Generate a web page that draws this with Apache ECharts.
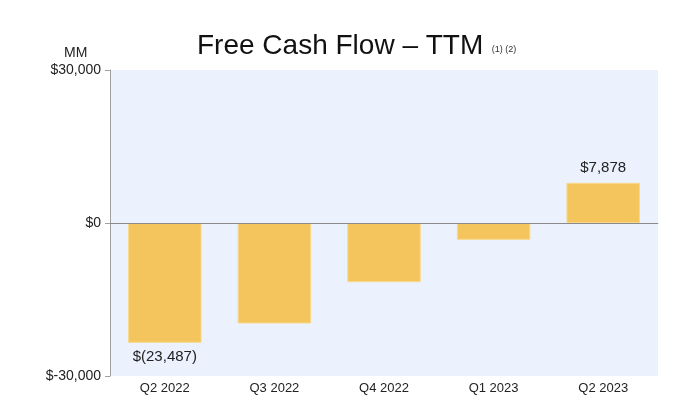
<!DOCTYPE html>
<html><head><meta charset="utf-8">
<script src="https://cdn.jsdelivr.net/npm/echarts@6/dist/echarts.min.js"></script>
<style>html,body{margin:0;padding:0;background:#fff}#c{width:700px;height:401px}</style>
</head><body><div id="c"></div>
<script>
const categories = ['Q2 2022', 'Q3 2022', 'Q4 2022', 'Q1 2023', 'Q2 2023'];
const values = [-23487, -19700, -11600, -3300, 7878];
const valueLabels = ['$(23,487)', '', '', '', '$7,878'];
const yTicks = { min: -30000, max: 30000, interval: 30000 };

const chart = echarts.init(document.getElementById('c'));
const font = '"Liberation Sans", Arial, sans-serif';
chart.setOption({
  animation: false,
  textStyle: { fontFamily: font },
  title: [{
    text: '{t|Free Cash Flow – TTM}{s| (1) (2)}',
    left: 192, top: 27,
    textStyle: { rich: {
      t: { fontSize: 28, fontWeight: 'normal', color: '#111', fontFamily: font },
      s: { fontSize: 9, fontWeight: 'normal', color: '#333', fontFamily: font, verticalAlign: 'bottom', padding: [0,0,6,6] }
    } }
  }, {
    text: 'MM', left: 59, top: 41,
    textStyle: { fontSize: 14, fontWeight: 'normal', color: '#222', fontFamily: font }
  }],
  grid: { left: 110, right: 42, top: 70, bottom: 25, show: true, backgroundColor: '#EBF1FD', borderWidth: 0 },
  xAxis: {
    type: 'category', data: categories,
    axisLine: { lineStyle: { color: '#C0C0C0' } },
    axisTick: { alignWithLabel: true, length: 4, lineStyle: { color: '#C0C0C0' } },
    axisLabel: { color: '#222', fontSize: 13, margin: 6 }
  },
  yAxis: {
    type: 'value', min: yTicks.min, max: yTicks.max, interval: yTicks.interval,
    splitLine: { show: false },
    axisLine: { show: true, lineStyle: { color: '#A0A0A0' } },
    axisTick: { show: true, length: 5, lineStyle: { color: '#A0A0A0' } },
    axisLabel: { color: '#222', fontSize: 14, margin: 9,
      formatter: v => '$' + (v < 0 ? '-' : '') + Math.abs(v).toLocaleString('en-US') }
  },
  series: [{
    type: 'bar', data: values, barWidth: '67%',
    itemStyle: { color: '#F4C55C', borderColor: '#F8D88A', borderWidth: 1 },
    label: { show: true, color: '#222', fontSize: 15, distance: 7,
      position: 'outside',
      formatter: p => valueLabels[p.dataIndex] },
    markLine: { silent: true, symbol: 'none', label: { show: false },
      lineStyle: { color: '#8A8A8A', type: 'solid', width: 1 },
      data: [{ yAxis: 0 }] }
  }]
});
</script></body></html>
